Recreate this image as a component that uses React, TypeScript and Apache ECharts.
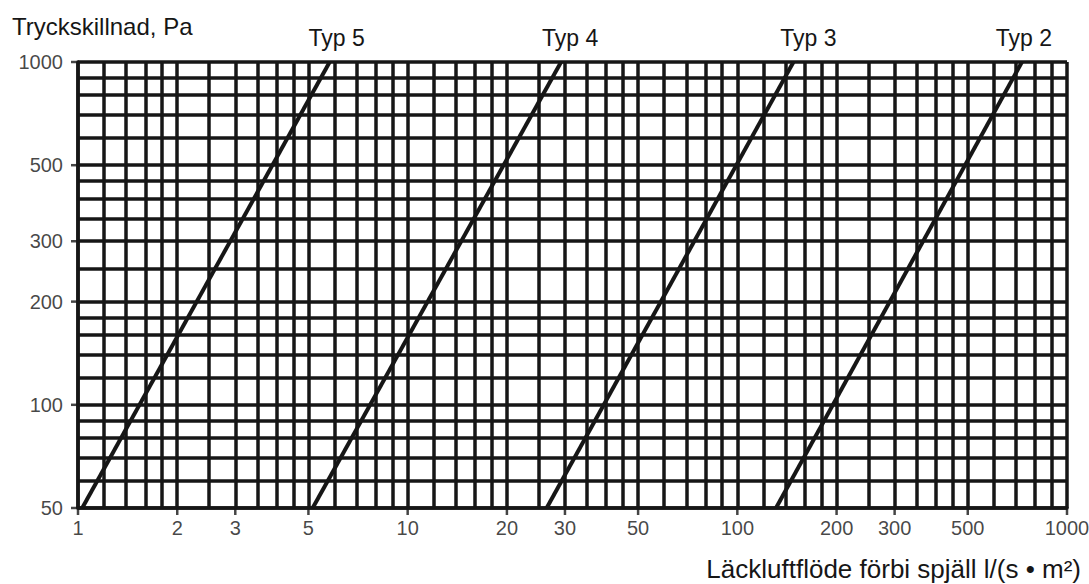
import React, { useEffect, useRef } from "react";
import * as echarts from "echarts";

// Grid (graph-paper) lines
const xGridValues = [
  1, 1.2, 1.4, 1.6, 1.8, 2, 2.5, 3, 3.5, 4, 4.5, 5, 6, 7, 8, 9,
  10, 12, 14, 16, 18, 20, 25, 30, 35, 40, 45, 50, 60, 70, 80, 90,
  100, 120, 140, 160, 180, 200, 250, 300, 350, 400, 450, 500, 600, 700, 800, 900, 1000,
];
const yGridValues = [
  50, 60, 70, 80, 90, 100, 120, 140, 160, 180, 200, 250, 300, 350, 400, 450, 500,
  600, 700, 800, 900, 1000,
];

// Tick labels
const xTickLabels = [1, 2, 3, 5, 10, 20, 30, 50, 100, 200, 300, 500, 1000];
const yTickLabels = [50, 100, 200, 300, 500, 1000];

// Damper types: leakage flow at 50 Pa and at 1000 Pa
const typeNames = ["Typ 5", "Typ 4", "Typ 3", "Typ 2"];
const flowAt50Pa = [1.03, 5.15, 26.4, 131];
const flowAt1000Pa = [5.8, 29.2, 148, 730];
const pressureLow = 50;
const pressureHigh = 1000;

const xAxisName = "Läckluftflöde förbi spjäll l/(s • m²)";
const yAxisName = "Tryckskillnad, Pa";

const FONT = "'Liberation Sans', Arial, Helvetica, sans-serif";
const INK = "#161616";
const typLabelOffsets = [7, 9, 15, 2];

export default function App() {
  const ref = useRef<HTMLDivElement>(null);

  useEffect(() => {
    if (!ref.current) return;
    const chart = echarts.init(ref.current, undefined, { renderer: "svg" });

    const gridLines = [
      ...xGridValues.map((v) => ({ xAxis: v })),
      ...yGridValues.map((v) => ({ yAxis: v })),
    ];

    const typSeries = typeNames.map((name, i) => ({
      type: "line",
      name,
      z: 10,
      silent: true,
      showSymbol: false,
      symbol: "none",
      lineStyle: { color: INK, width: 4 },
      data: [
        [flowAt50Pa[i], pressureLow],
        [flowAt1000Pa[i], pressureHigh],
      ],
      markPoint: {
        silent: true,
        symbol: "rect",
        symbolSize: 1,
        itemStyle: { color: "rgba(0,0,0,0)" },
        label: {
          show: true,
          position: "top",
          distance: 12,
          offset: [typLabelOffsets[i], 0],
          formatter: name,
          fontFamily: FONT,
          fontSize: 23,
          color: INK,
        },
        data: [{ name, coord: [flowAt1000Pa[i], pressureHigh] }],
      },
    }));

    chart.setOption({
      animation: false,
      backgroundColor: "#ffffff",
      title: {
        text: yAxisName,
        left: 12,
        top: 14,
        padding: 0,
        textStyle: { fontFamily: FONT, fontSize: 24, fontWeight: "normal", color: INK },
      },
      grid: { left: 78, right: 22, top: 62, bottom: 76, outerBoundsMode: "none" },
      xAxis: {
        type: "log",
        logBase: 10,
        min: 1,
        max: 1000,
        name: xAxisName,
        nameLocation: "end",
        nameGap: 14,
        nameTextStyle: {
          fontFamily: FONT,
          fontSize: 26,
          color: INK,
          align: "right",
          verticalAlign: "top",
          padding: [48, 0, 0, 0],
        },
        axisLine: { show: true, lineStyle: { color: INK, width: 3.5 } },
        axisTick: { show: false },
        axisLabel: { show: false },
        splitLine: { show: false },
      },
      yAxis: {
        type: "log",
        logBase: 10,
        min: 50,
        max: 1000,
        axisLine: { show: true, lineStyle: { color: INK, width: 3.5 } },
        axisTick: { show: false },
        axisLabel: { show: false },
        splitLine: { show: false },
      },
      series: [
        {
          type: "scatter",
          name: "x-ticks",
          silent: true,
          clip: false,
          z: 4,
          symbol: "rect",
          symbolSize: [2.5, 7],
          symbolOffset: [0, 3.5],
          itemStyle: { color: INK },
          label: {
            show: true,
            position: "bottom",
            distance: 3,
            fontFamily: FONT,
            fontSize: 20,
            color: INK,
            formatter: (p: any) => String(p.value[0]),
          },
          data: xTickLabels.map((v) => [v, pressureLow]),
          markLine: {
            silent: true,
            symbol: "none",
            animation: false,
            label: { show: false },
            lineStyle: { type: "solid", color: INK, width: 3.5 },
            emphasis: { disabled: true },
            data: gridLines,
          },
        },
        {
          type: "scatter",
          name: "y-ticks",
          silent: true,
          clip: false,
          z: 4,
          symbol: "rect",
          symbolSize: [7, 2.5],
          symbolOffset: [-3.5, 0],
          itemStyle: { color: INK },
          label: {
            show: true,
            position: "left",
            distance: 8,
            fontFamily: FONT,
            fontSize: 20,
            color: INK,
            formatter: (p: any) => String(p.value[1]),
          },
          data: yTickLabels.map((v) => [xGridValues[0], v]),
        },
        ...typSeries,
      ],
    });

    return () => chart.dispose();
  }, []);

  return (
    <div
      ref={ref}
      style={{ position: "fixed", left: 0, top: 0, width: 1089, height: 584, background: "#fff" }}
    />
  );
}
